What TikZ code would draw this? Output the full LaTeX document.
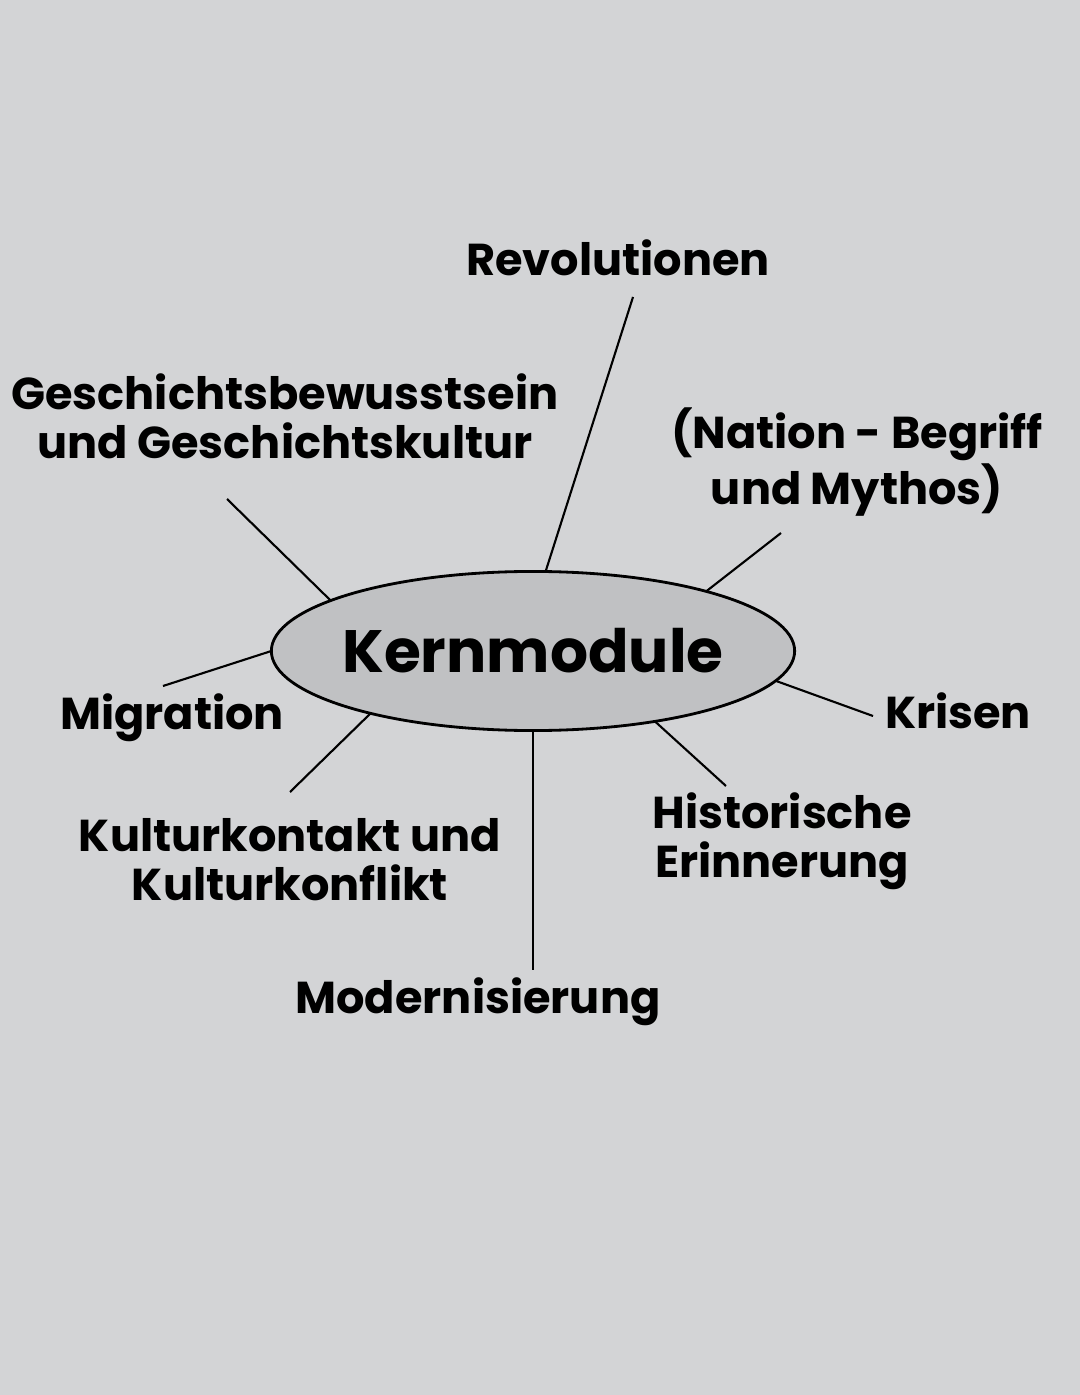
\documentclass[tikz,border=0pt]{standalone}
\usepackage{fontspec}
\setmainfont{Poppins}
\usetikzlibrary{shapes, positioning}
\definecolor{bggray}{HTML}{D3D4D6}
\definecolor{coregray}{HTML}{C0C1C3}

\begin{document}
\begin{tikzpicture}[x=0.01cm, y=-0.01cm,
    core/.style={ellipse, draw, line width=0.8pt, fill=coregray, minimum width=5.23cm, minimum height=1.59cm, inner xsep=-0.15cm, inner ysep=0pt, outer sep=0pt, font=\fontsize{17}{20}\selectfont\bfseries},
    topic/.style={align=center, inner sep=0pt, font=\fontsize{12.7}{14}\selectfont\bfseries},
    spoke/.style={draw, line width=0.6pt}
]
    \useasboundingbox [fill=bggray] (0,0) rectangle (1080,1395);

    % Center
    \node [core] (km) at (533,651) {Kernmodule};

    % Topics
    \node [topic] (rev) at (618,258) {Revolutionen};
    \node [topic] (gesch) at (285,416) {Geschichtsbewusstsein\\und Geschichtskultur};
    \node [topic] (nation) at (857,462) {(Nation - Begriff\\und Mythos)};
    \node [topic] (migr) at (172,718) {Migration};
    \node [topic] (kris) at (958,711) {Krisen};
    \node [topic] (kult) at (290,860) {Kulturkontakt und\\Kulturkonflikt};
    \node [topic] (hist) at (782,841) {Historische\\Erinnerung};
    \node [topic] (mod) at (478,1002) {Modernisierung};

    % Free ends of the spokes
    \coordinate (rev-end) at (633,297);
    \coordinate (gesch-end) at (227,499);
    \coordinate (nation-end) at (781,533);
    \coordinate (migr-end) at (163,686);
    \coordinate (kris-end) at (873,716);
    \coordinate (kult-end) at (290,792);
    \coordinate (hist-end) at (726,786);
    \coordinate (mod-end) at (533,970);

    % Spokes
    \path [spoke] (km.81.6) -- (rev-end);
    \path [spoke] (km.166.8) -- (gesch-end);
    \path [spoke] (km.19.2) -- (nation-end);
    \path [spoke] (km.180) -- (migr-end);
    \path [spoke] (km.-7.4) -- (kris-end);
    \path [spoke] (km.201.4) -- (kult-end);
    \path [spoke] (km.-30.2) -- (hist-end);
    \path [spoke] (km.270) -- (mod-end);
\end{tikzpicture}
\end{document}
